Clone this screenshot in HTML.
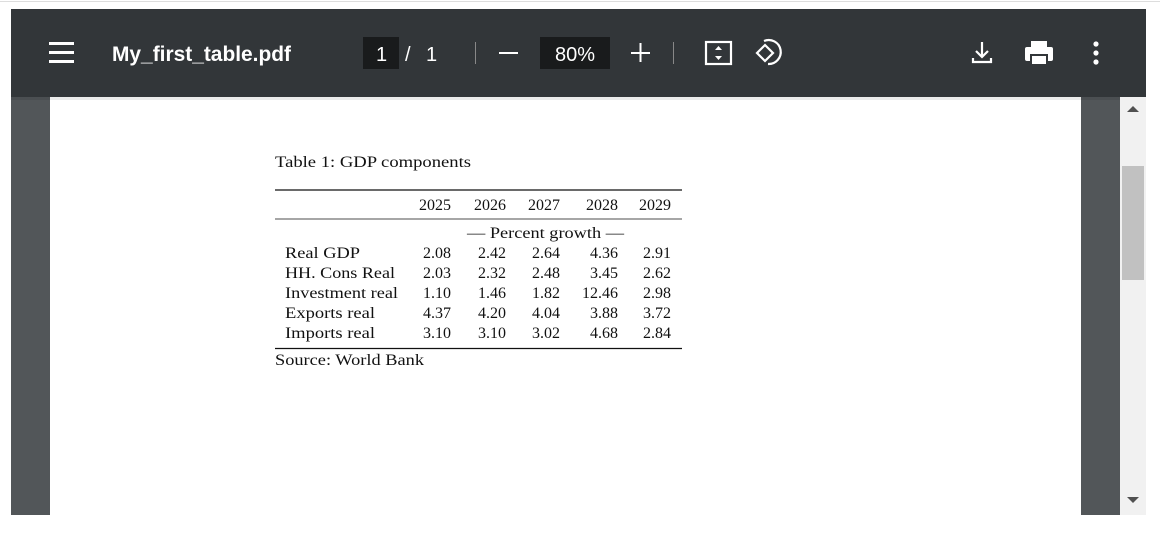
<!DOCTYPE html>
<html><head><meta charset="utf-8"><style>
html,body{margin:0;padding:0;background:#fff;width:1160px;height:536px;overflow:hidden;font-family:"Liberation Sans",sans-serif}
</style></head><body>
<svg width="1160" height="536" xmlns="http://www.w3.org/2000/svg" style="position:absolute;left:0;top:0">
<line x1="0" y1="1.5" x2="1160" y2="1.5" stroke="#ddd"/>
<rect x="11" y="97" width="1109" height="418" fill="#525659"/>
<rect x="50" y="97" width="1031" height="418" fill="#fff"/>
<rect x="1120" y="97" width="26" height="418" fill="#f1f1f1"/>
<rect x="1122" y="166" width="22" height="114" fill="#c1c1c1"/>
<path d="M1127 112 L1133 106 L1139 112 Z" fill="#505050"/>
<path d="M1127 497 L1133 503 L1139 497 Z" fill="#505050"/>
<rect x="11" y="97" width="1109" height="3" fill="#000" opacity="0.08"/>
<rect x="11" y="9" width="1135" height="88" fill="#323639"/>
<g fill="#fff">
<rect x="49" y="42" width="25" height="3"/><rect x="49" y="51" width="25" height="3"/><rect x="49" y="60" width="25" height="3"/>
</g>
<text x="112" y="61" fill="#fff" font-size="21" font-weight="bold" font-family="Liberation Sans" textLength="179" lengthAdjust="spacingAndGlyphs">My_first_table.pdf</text>
<rect x="363" y="37" width="36" height="32" fill="#191b1c"/>
<text x="376" y="61" fill="#fff" font-size="20">1</text>
<text x="405" y="61" fill="#fff" font-size="20">/</text>
<text x="426" y="61" fill="#fff" font-size="20">1</text>
<rect x="475" y="42" width="1" height="22" fill="#888"/>
<rect x="499" y="52" width="19" height="2" fill="#fff"/>
<rect x="540" y="37" width="70" height="32" fill="#191b1c"/>
<text x="555" y="61" fill="#fff" font-size="20">80%</text>
<rect x="631" y="52" width="19" height="2" fill="#fff"/><rect x="639.5" y="43" width="2" height="19" fill="#fff"/>
<rect x="673" y="42" width="1" height="22" fill="#888"/>
<rect x="706" y="42" width="25" height="22" fill="none" stroke="#fff" stroke-width="2.2"/>
<path d="M715 50 L718.5 46 L722 50Z M715 56 L718.5 60 L722 56Z" fill="#fff"/>
<path d="M757 53 L765 45 L773 53 L765 61 Z" fill="none" stroke="#fff" stroke-width="2.2"/>
<path d="M764 41 A12 12 0 1 1 768 64" fill="none" stroke="#fff" stroke-width="2.2"/>
<g stroke="#fff" stroke-width="2.2" fill="none"><path d="M982 42 V56 M976 51 L982 57 L988 51 M973 58 V62 H991 V58"/></g>
<rect x="1031" y="41" width="16" height="6" fill="#fff"/>
<rect x="1025" y="47" width="28" height="14" rx="2" fill="#fff"/>
<rect x="1031" y="55" width="16" height="10" fill="#fff" stroke="#323639" stroke-width="2"/>
<circle cx="1096" cy="44" r="2.6" fill="#fff"/><circle cx="1096" cy="53" r="2.6" fill="#fff"/><circle cx="1096" cy="62" r="2.6" fill="#fff"/>
<g font-family="Liberation Serif, serif" font-size="16" fill="#111">
<text x="275" y="167" textLength="196" lengthAdjust="spacingAndGlyphs">Table 1: GDP components</text>
<line x1="275" y1="190" x2="682" y2="190" stroke="#111" stroke-width="1.3"/>
<line x1="275" y1="219" x2="682" y2="219" stroke="#111" stroke-width="0.8"/>
<line x1="275" y1="348.5" x2="682" y2="348.5" stroke="#111" stroke-width="1.3"/>
<g text-anchor="end">
<text x="451" y="210">2025</text><text x="506" y="210">2026</text><text x="560" y="210">2027</text><text x="618" y="210">2028</text><text x="671" y="210">2029</text>
</g>
<text x="467" y="238" textLength="157" lengthAdjust="spacingAndGlyphs">— Percent growth —</text>
<text x="285" y="258" textLength="75" lengthAdjust="spacingAndGlyphs">Real GDP</text>
<text x="285" y="278" textLength="110" lengthAdjust="spacingAndGlyphs">HH. Cons Real</text>
<text x="285" y="298" textLength="113" lengthAdjust="spacingAndGlyphs">Investment real</text>
<text x="285" y="318" textLength="90" lengthAdjust="spacingAndGlyphs">Exports real</text>
<text x="285" y="338" textLength="90" lengthAdjust="spacingAndGlyphs">Imports real</text>
<g text-anchor="end">
<text x="451" y="258">2.08</text><text x="506" y="258">2.42</text><text x="560" y="258">2.64</text><text x="618" y="258">4.36</text><text x="671" y="258">2.91</text>
<text x="451" y="278">2.03</text><text x="506" y="278">2.32</text><text x="560" y="278">2.48</text><text x="618" y="278">3.45</text><text x="671" y="278">2.62</text>
<text x="451" y="298">1.10</text><text x="506" y="298">1.46</text><text x="560" y="298">1.82</text><text x="618" y="298">12.46</text><text x="671" y="298">2.98</text>
<text x="451" y="318">4.37</text><text x="506" y="318">4.20</text><text x="560" y="318">4.04</text><text x="618" y="318">3.88</text><text x="671" y="318">3.72</text>
<text x="451" y="338">3.10</text><text x="506" y="338">3.10</text><text x="560" y="338">3.02</text><text x="618" y="338">4.68</text><text x="671" y="338">2.84</text>
</g>
<text x="275" y="365" textLength="149" lengthAdjust="spacingAndGlyphs">Source: World Bank</text>
</g>
</svg>
</body></html>
